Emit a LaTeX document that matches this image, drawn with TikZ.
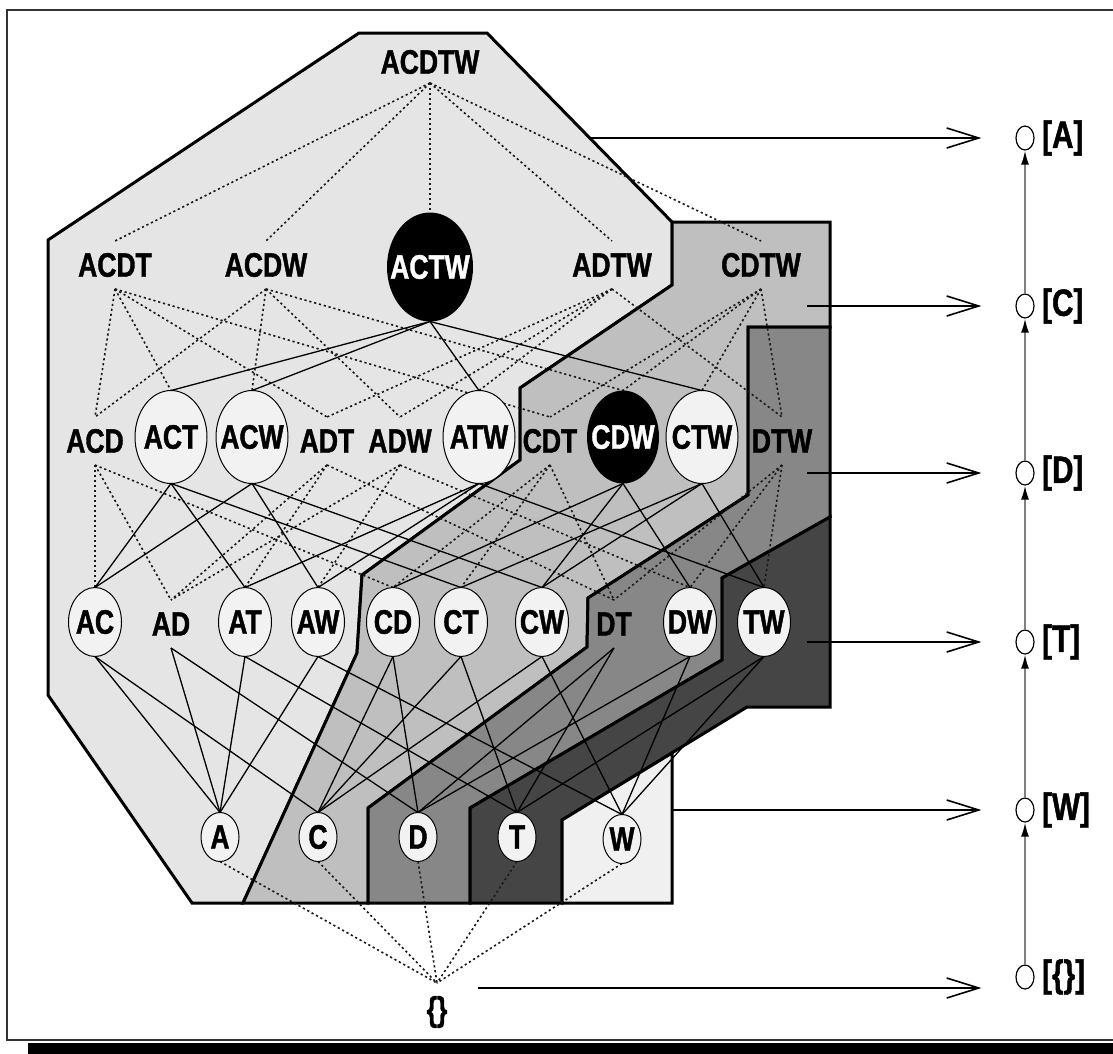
\documentclass[tikz,border=0pt]{standalone}
\usepackage{fontspec}
\newfontfamily\lblfont{Liberation Sans}[FakeStretch=0.78, BoldFeatures={FakeBold=1.2}]
\usetikzlibrary{shapes.geometric,arrows.meta,backgrounds}

\definecolor{regA}{gray}{0.90}
\definecolor{regC}{gray}{0.75}
\definecolor{regD}{gray}{0.53}
\definecolor{regT}{gray}{0.27}
\definecolor{regW}{gray}{0.94}
\definecolor{bubfill}{gray}{0.95}

\newcommand\zw[1]{\makebox[0pt]{#1}}

\tikzset{
  lbl/.style={font=\lblfont\bfseries\fontsize{34}{38}\selectfont,
              inner sep=0pt, outer sep=0pt, minimum height=48pt},
  bub/.style={lbl, ellipse, draw, line width=1pt, fill=bubfill},
  bthree/.style={bub, minimum width=72pt, minimum height=93pt},
  btwo/.style={bub, minimum width=53pt, minimum height=69pt},
  bone/.style={bub, minimum width=38pt, minimum height=49pt},
  blk/.style={lbl, ellipse, fill=black, text=white},
  region/.style={line width=3pt, line join=miter, draw=black},
  sol/.style={line width=1.3pt},
  dot/.style={line width=1.6pt, black!90, dash pattern=on 2.2pt off 2.8pt},
  arr/.style={line width=1.6pt, -{Straight Barb[length=32pt,width=20pt]}, shorten >=34pt},
  vline/.style={line width=1.6pt, black!50, -{Latex[length=14pt,width=8pt,color=black]}},
  ring/.style={ellipse, draw, line width=1.2pt, fill=white, inner sep=0pt,
               minimum width=18pt, minimum height=24pt},
  rlbl/.style={font=\lblfont\bfseries\fontsize{38}{42}\selectfont, inner sep=0pt, anchor=west},
}

\begin{document}
\begin{tikzpicture}[x=1pt,y=-1pt]
\useasboundingbox (0,0) rectangle (1113,1053);

% outer frame with its shadow
\fill[black] (28,1043) rectangle (1130,1060);
\draw[line width=2.2pt, black!80] (1130,10) -- (7,10) -- (7,1040) -- (1130,1040);

% ---------- lattice nodes ----------
\node[lbl, minimum height=42pt] (ACDTW) at (430,62) {ACDTW};

\node[lbl] (ACDT) at (115,265) {ACDT};
\node[lbl] (ACDW) at (266,265) {ACDW};
\node[blk, minimum width=86pt, minimum height=109pt] (ACTW) at (430,267) {\zw{ACTW}};
\node[lbl] (ADTW) at (612,265) {ADTW};
\node[lbl] (CDTW) at (761,265) {CDTW};

\node[lbl] (ACD) at (95,441) {ACD};
\node[bthree] (ACT) at (171,437) {\zw{ACT}};
\node[bthree] (ACW) at (252,437) {\zw{ACW}};
\node[lbl] (ADT) at (327,441) {ADT};
\node[lbl] (ADW) at (400,441) {ADW};
\node[bthree] (ATW) at (479,437) {\zw{ATW}};
\node[lbl] (CDT) at (550,441) {CDT};
\node[blk, minimum width=72pt, minimum height=93pt] (CDW) at (623,437) {\zw{CDW}};
\node[bthree] (CTW) at (702,437) {\zw{CTW}};
\node[lbl] (DTW) at (782,441) {DTW};

\node[btwo] (AC) at (95,622) {\zw{AC}};
\node[lbl] (AD) at (171,624) {AD};
\node[btwo] (AT) at (245,622) {\zw{AT}};
\node[btwo] (AW) at (318,622) {\zw{AW}};
\node[btwo] (CD) at (393,622) {\zw{CD}};
\node[btwo] (CT) at (461,622) {\zw{CT}};
\node[btwo] (CW) at (542,622) {\zw{CW}};
\node[lbl] (DT) at (614,624) {DT};
\node[btwo] (DW) at (690,622) {\zw{DW}};
\node[btwo] (TW) at (764,622) {\zw{TW}};

\node[bone] (A) at (220,837) {\zw{A}};
\node[bone] (C) at (318,837) {\zw{C}};
\node[bone] (D) at (418,837) {\zw{D}};
\node[bone] (T) at (517,837) {\zw{T}};
\node[bone] (W) at (622,839) {\zw{W}};

\node[lbl, minimum height=58pt] (E) at (437,1012) {\{\}};

% ---------- shaded regions and lattice edges (behind the nodes) ----------
\begin{scope}[on background layer]
  \filldraw[region, fill=regA] (359,33) -- (487,33) -- (672,222) -- (672,285)
     -- (520,388) -- (520,460) -- (362,575) -- (357,653) -- (243,903)
     -- (192,903) -- (48,695) -- (48,240) -- cycle;
  \filldraw[region, fill=regC] (672,222) -- (830,222) -- (830,327) -- (748,327)
     -- (748,495) -- (588,598) -- (587,647) -- (368,808) -- (368,903)
     -- (243,903) -- (357,653) -- (362,575) -- (520,460) -- (520,388)
     -- (672,285) -- cycle;
  \filldraw[region, fill=regD] (748,327) -- (830,327) -- (830,517) -- (722,578)
     -- (722,660) -- (470,808) -- (470,903) -- (368,903) -- (368,808)
     -- (587,647) -- (588,598) -- (748,495) -- cycle;
  \filldraw[region, fill=regT] (722,578) -- (830,517) -- (830,707) -- (747,707)
     -- (562,820) -- (562,903) -- (470,903) -- (470,808) -- (722,660) -- cycle;
  \filldraw[region, fill=regW] (562,820) -- (672,753) -- (672,903)
     -- (562,903) -- cycle;

  \foreach \u/\l in {ACDTW/ACDT, ACDTW/ACDW, ACDTW/ACTW, ACDTW/ADTW, ACDTW/CDTW,
      ACDT/ACD, ACDT/ACT, ACDT/ADT, ACDT/CDT,
      ACDW/ACD, ACDW/ACW, ACDW/ADW, ACDW/CDW,
      ADTW/ADT, ADTW/ADW, ADTW/ATW, ADTW/DTW,
      CDTW/CDT, CDTW/CDW, CDTW/CTW, CDTW/DTW,
      ACD/AC, ACD/AD, ACD/CD,
      ADT/AD, ADT/AT, ADT/DT,
      ADW/AD, ADW/AW, ADW/DW,
      CDT/CD, CDT/CT, CDT/DT,
      DTW/DT, DTW/DW, DTW/TW,
      A/E, C/E, D/E, T/E, W/E}
    \draw[dot] (\u.south) -- (\l.north);

  \foreach \u/\l in {ACTW/ACT, ACTW/ACW, ACTW/ATW, ACTW/CTW,
      ACT/AC, ACT/AT, ACT/CT,
      ACW/AC, ACW/AW, ACW/CW,
      ATW/AT, ATW/AW, ATW/TW,
      CDW/CD, CDW/CW, CDW/DW,
      CTW/CT, CTW/CW, CTW/TW,
      AC/A, AC/C, AD/A, AD/D, AT/A, AT/T, AW/A, AW/W,
      CD/C, CD/D, CT/C, CT/T, CW/C, CW/W,
      DT/D, DT/T, DW/D, DW/W, TW/T, TW/W}
    \draw[sol] (\u.south) -- (\l.north);
\end{scope}

% ---------- chain of classes on the right ----------
\node[ring] (rA) at (1025,138) {};
\node[ring] (rC) at (1025,306) {};
\node[ring] (rD) at (1025,473) {};
\node[ring] (rT) at (1025,642) {};
\node[ring] (rW) at (1025,810) {};
\node[ring] (rE) at (1025,977) {};

\node[rlbl] (lA) at (1042,138) {[A]};
\node[rlbl] (lC) at (1042,306) {[C]};
\node[rlbl] (lD) at (1042,473) {[D]};
\node[rlbl] (lT) at (1042,642) {[T]};
\node[rlbl] (lW) at (1042,810) {[W]};
\node[rlbl] (lE) at (1042,977) {[\{\}]};

\draw[vline] (rE.north) -- (rW.south);
\draw[vline] (rW.north) -- (rT.south);
\draw[vline] (rT.north) -- (rD.south);
\draw[vline] (rD.north) -- (rC.south);
\draw[vline] (rC.north) -- (rA.south);

% ---------- arrows from each region to its class ----------
\coordinate (sA) at (591,138);
\coordinate (sC) at (807,306);
\coordinate (sD) at (807,473);
\coordinate (sT) at (807,642);
\coordinate (sW) at (672,810);
\coordinate (sE) at (478,988);

\draw[arr] (sA) -- (rA.west);
\draw[arr] (sC) -- (rC.west);
\draw[arr] (sD) -- (rD.west);
\draw[arr] (sT) -- (rT.west);
\draw[arr] (sW) -- (rW.west);
\draw[arr] (sE) -- (sE -| rE.west);
\end{tikzpicture}
\end{document}
